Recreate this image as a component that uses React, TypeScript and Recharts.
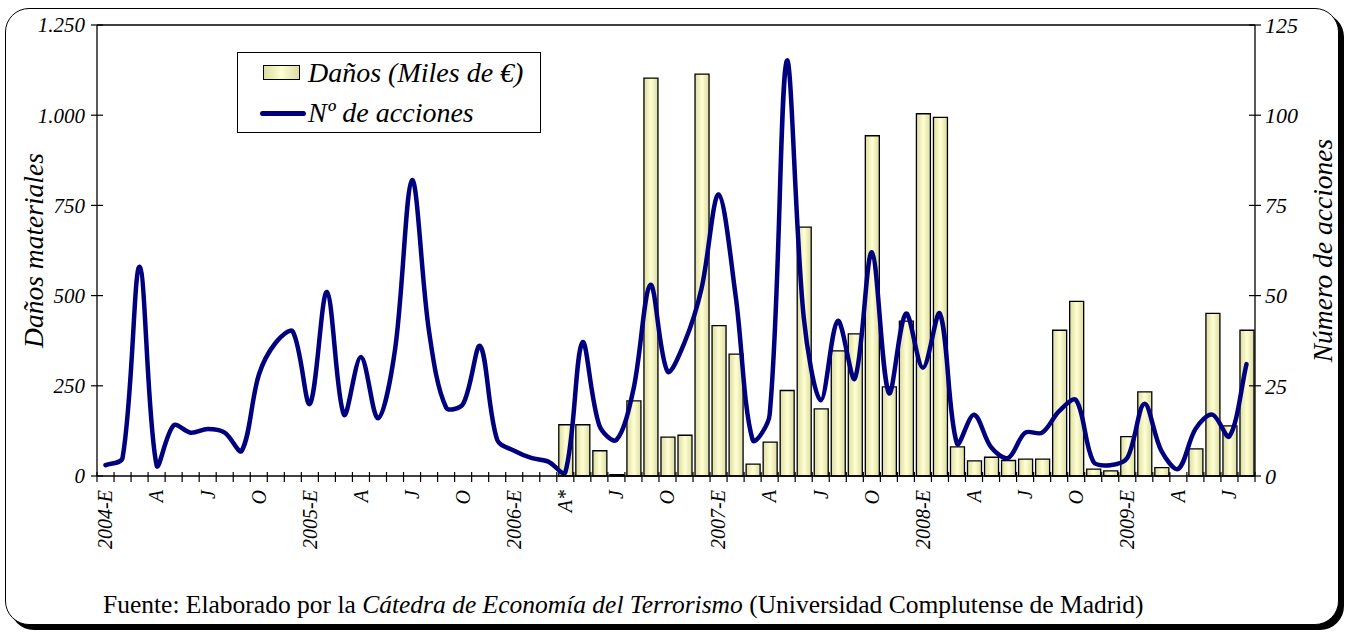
import React from "react";
import { ComposedChart, Bar, Line, XAxis, YAxis, ReferenceLine, Legend } from "recharts";

// one entry per month, Jan 2004 .. Aug 2009
const tickLabels = [
  "2004-E", "", "", "A", "", "", "J", "", "", "O", "", "",
  "2005-E", "", "", "A", "", "", "J", "", "", "O", "", "",
  "2006-E", "", "", "A*", "", "", "J", "", "", "O", "", "",
  "2007-E", "", "", "A", "", "", "J", "", "", "O", "", "",
  "2008-E", "", "", "A", "", "", "J", "", "", "O", "", "",
  "2009-E", "", "", "A", "", "", "J", "",
];

// Daños (miles de €), only from Apr 2006
const danos = [
  null, null, null, null, null, null, null, null, null, null, null, null,
  null, null, null, null, null, null, null, null, null, null, null, null,
  null, null, null, 142, 142, 70, 4, 208, 1103, 108, 113, 1114,
  417, 338, 33, 94, 237, 690, 186, 347, 394, 943, 247, 429,
  1004, 994, 81, 42, 52, 43, 47, 47, 404, 484, 19, 14,
  109, 233, 23, 0, 75, 451, 139, 404,
];

// Nº de acciones
const acciones = [
  3, 5, 58, 3, 14, 12, 13, 12, 7, 28, 37, 40,
  20, 51, 17, 33, 16, 35, 82, 40, 19, 20, 36, 10,
  7, 5, 4, 1, 37, 14, 10, 24, 53, 29, 37, 52,
  78, 50, 10, 17, 115, 44, 21, 43, 27, 62, 23, 45,
  30, 45, 9, 17, 8, 5, 12, 12, 18, 21, 4, 3,
  5, 20, 7, 2, 13, 17, 11, 31,
];

const leftTicks = [0, 250, 500, 750, 1000, 1250];
const rightTicks = [0, 25, 50, 75, 100, 125];

const data = acciones.map((a, i) => ({ m: i, danos: danos[i], acciones: a }));

const FONT = '"Liberation Serif", "Times New Roman", serif';
const NAVY = "#00007f";

const W = 1353;
const H = 633;
const PLOT_LEFT = 97;
const PLOT_RIGHT = 1255;
const PLOT_TOP = 25;
const PLOT_BOTTOM = 476;
const XAXIS_H = 70;
const HALF_BAND = (PLOT_RIGHT - PLOT_LEFT) / tickLabels.length / 2;

// Excel-like smoothed line: Bezier handles scaled by the neighbouring chord lengths
function excelSmooth(context: any) {
  let pts: number[][] = [];
  const dist = (a: number[], b: number[]) => Math.hypot(b[0] - a[0], b[1] - a[1]);
  return {
    areaStart() {},
    areaEnd() {},
    lineStart() {
      pts = [];
    },
    point(x: number, y: number) {
      pts.push([+x, +y]);
    },
    lineEnd() {
      if (!pts.length) return;
      const f = 1 / 3;
      context.moveTo(pts[0][0], pts[0][1]);
      for (let i = 0; i < pts.length - 1; i++) {
        const p0 = pts[i - 1] || pts[i];
        const p1 = pts[i];
        const p2 = pts[i + 1];
        const p3 = pts[i + 2] || p2;
        const d01 = dist(p0, p1);
        const d12 = dist(p1, p2);
        const d23 = dist(p2, p3);
        const r1 = d01 + d12 > 0 ? d12 / (d01 + d12) : 0.5;
        const r2 = d12 + d23 > 0 ? d12 / (d12 + d23) : 0.5;
        context.bezierCurveTo(
          p1[0] + (p2[0] - p0[0]) * r1 * f,
          p1[1] + (p2[1] - p0[1]) * r1 * f,
          p2[0] - (p3[0] - p1[0]) * r2 * f,
          p2[1] - (p3[1] - p1[1]) * r2 * f,
          p2[0],
          p2[1]
        );
      }
    },
  };
}

function formatMiles(v: number) {
  if (v < 1000) return String(v);
  return `${Math.floor(v / 1000)}.${String(v % 1000).padStart(3, "0")}`;
}

function MonthTick({ x, y, payload }: any) {
  const i = payload.value;
  const label = tickLabels[i];
  const last = i === tickLabels.length - 1;
  return (
    <g>
      <line x1={x - HALF_BAND} x2={x - HALF_BAND} y1={y - 4} y2={y + 6} stroke="#000" strokeWidth={1.2} />
      {last && <line x1={x + HALF_BAND} x2={x + HALF_BAND} y1={y - 4} y2={y + 6} stroke="#000" strokeWidth={1.2} />}
      {label && (
        <text
          transform={`translate(${x},${y + 14}) rotate(-90)`}
          textAnchor="end"
          dy="0.34em"
          fontFamily={FONT}
          fontStyle="italic"
          fontSize={20}
          fill="#000"
        >
          {label}
        </text>
      )}
    </g>
  );
}

function LeftTick({ x, y, payload }: any) {
  return (
    <g>
      <line x1={x - 6} x2={x + 6} y1={y} y2={y} stroke="#000" strokeWidth={1.2} />
      <text x={x - 12} y={y} dy="0.35em" textAnchor="end" fontFamily={FONT} fontStyle="italic" fontSize={21} fill="#000">
        {formatMiles(payload.value)}
      </text>
    </g>
  );
}

function RightTick({ x, y, payload }: any) {
  return (
    <g>
      <line x1={x - 6} x2={x + 6} y1={y} y2={y} stroke="#000" strokeWidth={1.2} />
      <text x={x + 10} y={y} dy="0.35em" textAnchor="start" fontFamily={FONT} fontStyle="italic" fontSize={22} fill="#000">
        {payload.value}
      </text>
    </g>
  );
}

function AxisTitle({ text, cx }: any) {
  const cy = (PLOT_TOP + PLOT_BOTTOM) / 2;
  return (
    <text
      transform={`translate(${cx},${cy}) rotate(-90)`}
      textAnchor="middle"
      dy="0.35em"
      fontFamily={FONT}
      fontStyle="italic"
      fontSize={27.5}
      fill="#000"
    >
      {text}
    </text>
  );
}

function LegendBox() {
  const text = { fontFamily: FONT, fontStyle: "italic", fontSize: 28, lineHeight: "32px", color: "#000", whiteSpace: "nowrap" as const };
  return (
    <div
      style={{
        width: 304,
        height: 81,
        boxSizing: "border-box",
        border: "1px solid #000",
        background: "#fff",
        position: "relative",
      }}
    >
      <div
        style={{
          position: "absolute",
          left: 25,
          top: 12,
          width: 37,
          height: 15,
          boxSizing: "border-box",
          border: "1.5px solid #000",
          background: "linear-gradient(to right, #dcdca4, #ffffd2 50%, #dcdca4)",
        }}
      />
      <div style={{ ...text, position: "absolute", left: 70, top: 4 }}>Daños (Miles de €)</div>
      <div
        style={{
          position: "absolute",
          left: 22,
          top: 58,
          width: 46,
          height: 5,
          borderRadius: 3,
          background: NAVY,
        }}
      />
      <div style={{ ...text, position: "absolute", left: 70, top: 44 }}>Nº de acciones</div>
    </div>
  );
}

export default function App() {
  return (
    <div style={{ position: "absolute", left: 0, top: 0, width: W, height: H, background: "#fff" }}>
      <div
        style={{
          position: "absolute",
          left: 5,
          top: 8,
          width: 1334,
          height: 617,
          boxSizing: "border-box",
          border: "1.5px solid #000",
          borderRadius: 24,
          boxShadow: "5px 5px 0 #000",
          background: "#fff",
        }}
      />
      <div style={{ position: "absolute", left: 0, top: 0 }}>
        <ComposedChart
          width={W}
          height={H}
          data={data}
          margin={{ top: PLOT_TOP, right: 0, left: 0, bottom: H - PLOT_BOTTOM - XAXIS_H }}
          barSize={14}
        >
          <defs>
            <linearGradient id="barGrad" x1="0" y1="0" x2="1" y2="0">
              <stop offset="0%" stopColor="#dcdca4" />
              <stop offset="50%" stopColor="#ffffd2" />
              <stop offset="100%" stopColor="#dcdca4" />
            </linearGradient>
          </defs>
          <XAxis
            dataKey="m"
            height={XAXIS_H}
            interval={0}
            tickSize={0}
            tickMargin={0}
            tickLine={false}
            axisLine={{ stroke: "#000", strokeWidth: 1.3 }}
            tick={<MonthTick />}
          />
          <YAxis
            yAxisId="left"
            orientation="left"
            width={PLOT_LEFT}
            domain={[0, 1250]}
            ticks={leftTicks}
            interval={0}
            tickSize={0}
            tickMargin={0}
            tickLine={false}
            axisLine={{ stroke: "#000", strokeWidth: 1.3 }}
            tick={<LeftTick />}
            label={<AxisTitle text="Daños materiales" cx={33} />}
          />
          <YAxis
            yAxisId="right"
            orientation="right"
            width={W - PLOT_RIGHT}
            domain={[0, 125]}
            ticks={rightTicks}
            interval={0}
            tickSize={0}
            tickMargin={0}
            tickLine={false}
            axisLine={{ stroke: "#000", strokeWidth: 1.3 }}
            tick={<RightTick />}
            label={<AxisTitle text="Número de acciones" cx={1322} />}
          />
          <ReferenceLine yAxisId="left" y={1250} stroke="#000" strokeWidth={1.3} />
          <Bar
            yAxisId="left"
            dataKey="danos"
            name="Daños (Miles de €)"
            fill="url(#barGrad)"
            stroke="#000"
            strokeWidth={1.3}
            isAnimationActive={false}
          />
          <Line
            yAxisId="right"
            dataKey="acciones"
            name="Nº de acciones"
            type={excelSmooth as any}
            stroke={NAVY}
            strokeWidth={4.5}
            strokeLinejoin="round"
            strokeLinecap="round"
            dot={false}
            activeDot={false}
            isAnimationActive={false}
          />
          <Legend
            layout="vertical"
            align="center"
            verticalAlign="middle"
            content={<LegendBox />}
            wrapperStyle={{ left: 237, top: 52, width: 304, height: 81 }}
          />
        </ComposedChart>
      </div>
      <div
        style={{
          position: "absolute",
          left: 103,
          top: 590,
          fontFamily: FONT,
          fontSize: 25.5,
          lineHeight: "30px",
          color: "#000",
          whiteSpace: "nowrap",
        }}
      >
        Fuente: Elaborado por la <i>Cátedra de Economía del Terrorismo</i> (Universidad Complutense de Madrid)
      </div>
    </div>
  );
}
